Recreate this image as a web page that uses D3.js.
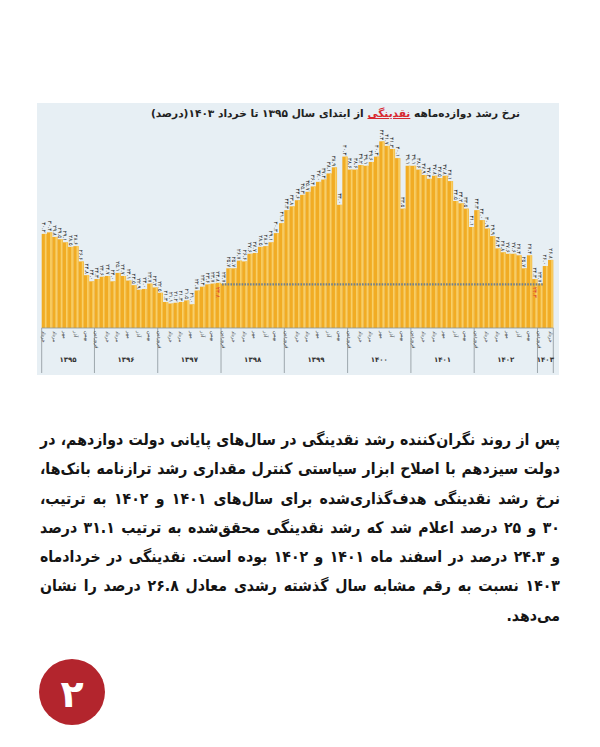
<!DOCTYPE html>
<html>
<head>
<meta charset="utf-8">
<script src="https://cdn.jsdelivr.net/npm/d3@7"></script>
<style>
  body { margin: 0; background: #fff; }
  #page { position: relative; width: 600px; height: 747px; overflow: hidden; }
  #page svg { position: absolute; left: 0; top: 0; }
  .title {
    position: absolute; right: 80px; top: 107px; direction: rtl; white-space: nowrap;
    font-family: "DejaVu Sans", sans-serif; font-weight: bold; font-size: 10.6px; color: #222;
  }
  .title .hl { color: #d7282f; text-decoration: underline; }
  .para {
    position: absolute; left: 40px; width: 520px; top: 425px; direction: rtl;
    font-family: "DejaVu Sans Condensed", "DejaVu Sans", sans-serif; font-weight: bold;
    font-size: 16.5px; line-height: 29.3px; color: #141414;
  }
  .para div { white-space: nowrap; text-align: right; }
  .para span { display: inline-block; }
</style>
</head>
<body>
<div id="page"></div>
<script>
// ---- data (12-month liquidity growth, %) ----
const years = ["۱۳۹۵", "۱۳۹۶", "۱۳۹۷", "۱۳۹۸", "۱۳۹۹", "۱۴۰۰", "۱۴۰۱", "۱۴۰۲", "۱۴۰۳"];
const firstMonth = [2, 0, 0, 0, 0, 0, 0, 0, 0];   // 1395 starts at Khordad in the picture
const monthNames = ["فروردین", "اردیبهشت", "خرداد", "تیر", "مرداد", "شهریور",
                    "مهر", "آبان", "آذر", "دی", "بهمن", "اسفند"];

const g1395 = [30.2, 30.4, 29.8, 29.5, 29.1, 28.5, 28.6, 26.6, 24.8, 24.0];
const g1396 = [24.3, 24.6, 24.7, 24.0, 25.1, 24.7, 24.1, 23.5, 22.9, 23.0, 23.7, 23.2];
const g1397 = [22.5, 21.3, 21.1, 21.2, 21.3, 21.5, 21.0, 22.8, 23.3, 23.6, 23.7, 23.8];
const g1398 = [23.7, 25.7, 25.7, 26.7, 26.6, 27.6, 27.7, 28.5, 28.6, 29.1, 30.3, 31.6];
const g1399 = [33.3, 33.8, 34.6, 35.3, 35.7, 36.4, 37.0, 37.3, 38.1, 38.9, 34.0, 40.3];
const g1400 = [38.6, 38.6, 39.2, 39.1, 39.6, 40.3, 42.3, 41.7, 41.3, 40.1, 33.5, 39.1];
const g1401 = [39.1, 38.6, 37.9, 37.4, 37.8, 37.5, 37.8, 37.1, 34.5, 34.2, 33.5, 31.1];
const g1402 = [33.3, 32.0, 30.9, 29.9, 28.3, 27.8, 27.6, 27.6, 27.4, 25.7, 27.4, 24.3];
const g1403 = [23.7, 26.0, 26.8];
const growth = [g1395, g1396, g1397, g1398, g1399, g1400, g1401, g1402, g1403];

const marked = ["2-11", "7-11"];          // bars with the red label (Esfand 1397, Esfand 1402)
const refLevel = 23.6;                     // dotted reference line
const refFrom = "3-0", refTo = "8-0";

const paraLines = [
  "پس از روند نگران‌کننده رشد نقدینگی در سال‌های پایانی دولت دوازدهم، در",
  "دولت سیزدهم با اصلاح ابزار سیاستی کنترل مقداری رشد ترازنامه بانک‌ها،",
  "نرخ رشد نقدینگی هدف‌گذاری‌شده برای سال‌های ۱۴۰۱ و ۱۴۰۲ به ترتیب،",
  "۳۰ و ۲۵ درصد اعلام شد که رشد نقدینگی محقق‌شده به ترتیب ۳۱.۱ درصد",
  "و ۲۴.۳ درصد در اسفند ماه ۱۴۰۱ و ۱۴۰۲ بوده است. نقدینگی در خردادماه",
  "۱۴۰۳ نسبت به رقم مشابه سال گذشته رشدی معادل ۲۶.۸ درصد را نشان",
  "می‌دهد."
];

const fa = s => String(s).replace(/\d/g, d => "۰۱۲۳۴۵۶۷۸۹"[d]);

// flatten into bars
const bars = [];
growth.forEach((arr, yi) => arr.forEach((v, i) => {
  bars.push({ yi, m: firstMonth[yi] + i, value: v, key: `${yi}-${i}` });
}));

const page = d3.select("#page");
const svg = page.append("svg").attr("width", 600).attr("height", 747);

// chart panel
svg.append("rect").attr("x", 37).attr("y", 103).attr("width", 522).attr("height", 272)
  .attr("fill", "#e7eff4");

const x = d3.scaleBand().domain(bars.map(d => d.key)).range([41.7, 553.3]).padding(0);
const y = d3.scaleLinear().domain([17.9, 44]).range([328, 128.3]);
const bw = x.bandwidth();

const g = svg.append("g");

// bars with the lighter stripe
const bar = g.selectAll("g.bar").data(bars).join("g").attr("class", "bar");
bar.append("rect")
  .attr("x", d => x(d.key)).attr("y", d => y(d.value))
  .attr("width", bw).attr("height", d => y.range()[0] - y(d.value))
  .attr("fill", "#f1ac24");
bar.append("rect")
  .attr("x", d => x(d.key) + bw * 0.6).attr("y", d => y(d.value))
  .attr("width", bw * 0.32).attr("height", d => y.range()[0] - y(d.value))
  .attr("fill", "#f8cf68");

// dotted reference line
g.append("line")
  .attr("x1", x(refFrom) + 1).attr("x2", x(refTo) + bw)
  .attr("y1", y(refLevel)).attr("y2", y(refLevel))
  .attr("stroke", "#6f8190").attr("stroke-width", 2.2).attr("stroke-dasharray", "1.6,1.2");

// value labels (rotated)
bar.append("text")
  .attr("transform", d => `translate(${x(d.key) + bw / 2},${y(d.value) - 1.2}) rotate(90)`)
  .attr("text-anchor", "end").attr("dominant-baseline", "central")
  .attr("font-family", "DejaVu Sans, sans-serif").attr("font-size", 5.4)
  .attr("fill", "#222")
  .text(d => fa(d.value.toFixed(1)));

bar.filter(d => marked.includes(d.key)).append("text")
  .attr("transform", d => `translate(${x(d.key) + bw / 2},${y(refLevel) + 2.5}) rotate(90)`)
  .attr("text-anchor", "start").attr("dominant-baseline", "central")
  .attr("font-family", "DejaVu Sans, sans-serif").attr("font-size", 5.6)
  .attr("fill", "#d7282f")
  .text(d => fa(d.value.toFixed(1)));

// axis band
const axisTop = y.range()[0], axisBottom = 373;
g.append("line").attr("x1", x.range()[0]).attr("x2", x.range()[1])
  .attr("y1", axisTop).attr("y2", axisTop).attr("stroke", "#8a949b").attr("stroke-width", 0.8);

const yearStarts = years.map((_, yi) => x(`${yi}-0`));
const edges = yearStarts.concat([x.range()[1]]);
g.selectAll("line.div").data(edges).join("line").attr("class", "div")
  .attr("x1", d => d).attr("x2", d => d).attr("y1", axisTop).attr("y2", axisBottom)
  .attr("stroke", "#8a949b").attr("stroke-width", 0.8);

g.selectAll("text.year").data(years).join("text").attr("class", "year")
  .attr("x", (d, i) => (edges[i] + edges[i + 1]) / 2).attr("y", 360)
  .attr("text-anchor", "middle").attr("dominant-baseline", "central")
  .attr("font-family", "DejaVu Sans, sans-serif").attr("font-weight", "bold")
  .attr("font-size", 7).attr("fill", "#333")
  .text(d => d);

g.selectAll("text.month").data(bars.filter(d => d.m % 2 === 0)).join("text").attr("class", "month")
  .attr("transform", d => `translate(${x(d.key) + bw / 2},${axisTop + 3}) rotate(90)`)
  .attr("text-anchor", "start").attr("dominant-baseline", "central")
  .attr("font-family", "DejaVu Sans, sans-serif").attr("font-size", 5)
  .attr("fill", "#3a3a3a")
  .text(d => monthNames[d.m]);

// title
const title = page.append("div").attr("class", "title");
title.append("span").text("نرخ رشد دوازده‌ماهه ");
title.append("span").attr("class", "hl").text("نقدینگی");
title.append("span").text(" از ابتدای  سال ۱۳۹۵ تا خرداد ۱۴۰۳(درصد)");

// paragraph: one div per line, justified by word spacing
const para = page.append("div").attr("class", "para");
const rows = para.selectAll("div").data(paraLines).join("div");
const spans = rows.append("span").text(d => d);
const widths = spans.nodes().map(n => n.getBoundingClientRect().width);
const maxW = d3.max(widths);
let fs = 16.5;
if (maxW > 515) { fs = fs * 515 / maxW; para.style("font-size", fs + "px"); }
spans.each(function (d, i) {
  if (i === paraLines.length - 1) return;
  const w = this.getBoundingClientRect().width;
  const gaps = d.split(" ").length - 1;
  d3.select(this).style("word-spacing", ((520 - w) / gaps) + "px");
});

// page number badge
svg.append("circle").attr("cx", 72).attr("cy", 692).attr("r", 33).attr("fill", "#b3252d");
svg.append("text").attr("x", 72).attr("y", 694)
  .attr("text-anchor", "middle").attr("dominant-baseline", "central")
  .attr("font-family", "DejaVu Sans, sans-serif").attr("font-weight", "bold")
  .attr("font-size", 38).attr("fill", "#fff")
  .text("۲");
</script>
</body>
</html>
